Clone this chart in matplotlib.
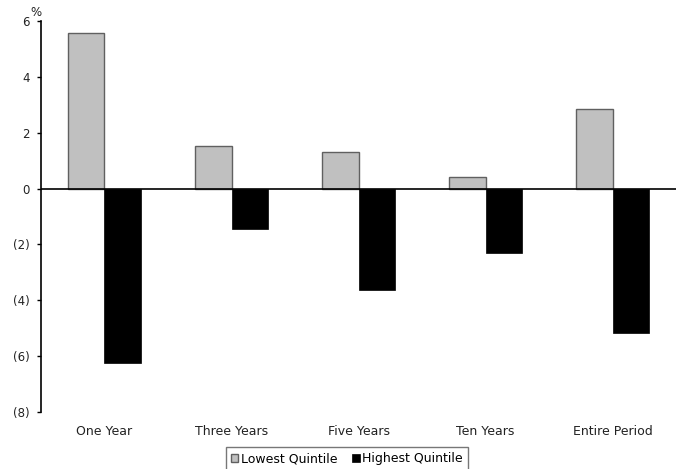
import numpy as np
import matplotlib.pyplot as plt

categories = ["One Year", "Three Years", "Five Years", "Ten Years", "Entire Period"]
lowest = [5.57, 1.54, 1.30, 0.40, 2.85]
highest = [-6.24, -1.43, -3.63, -2.30, -5.17]
yticks = [6, 4, 2, 0, -2, -4, -6, -8]
ytick_labels = ["6", "4", "2", "0", "(2)", "(4)", "(6)", "(8)"]


def main() -> None:
    fig = plt.figure(figsize=(6.83, 4.69), dpi=100)
    ax = fig.add_axes([0.060, 0.1215, 0.930, 0.8335])

    x = np.arange(len(categories))
    w = 0.287
    ax.bar(x - w / 2, lowest, w, color="#c0c0c0", edgecolor="#606060",
           linewidth=1, label="Lowest Quintile", zorder=2)
    ax.bar(x + w / 2, highest, w, color="black", edgecolor="black",
           linewidth=0.5, label="Highest Quintile", zorder=2)

    ax.set_xlim(-0.5, len(categories) - 0.5)
    ax.set_ylim(-8, 6)
    ax.axhline(0, color="black", linewidth=1.2, zorder=3)

    for side in ["top", "right", "bottom"]:
        ax.spines[side].set_visible(False)
    ax.spines["left"].set_linewidth(1.2)

    ax.set_yticks(yticks)
    ax.set_yticklabels(ytick_labels, fontsize=8.5, color="#222222")
    ax.tick_params(axis="y", length=3, width=1, pad=5)
    ax.set_xticks(x)
    ax.set_xticklabels(categories, fontsize=9, color="#222222")
    ax.tick_params(axis="x", length=0, pad=9)

    fig.text(36 / 683, 1 - 12 / 469, "%", fontsize=8.5, color="#222222",
             ha="center", va="center")

    fig.legend(loc="upper center", bbox_to_anchor=(347 / 683, 1 - 447 / 469),
               ncol=2, fontsize=9, frameon=True, fancybox=False,
               edgecolor="#555555", handlelength=0.6, handleheight=0.6,
               handletextpad=0.2, columnspacing=1.2, borderpad=0.4,
               borderaxespad=0)

    plt.savefig("out.png", dpi=100)
    plt.close()


if __name__ == "__main__":
    main()
